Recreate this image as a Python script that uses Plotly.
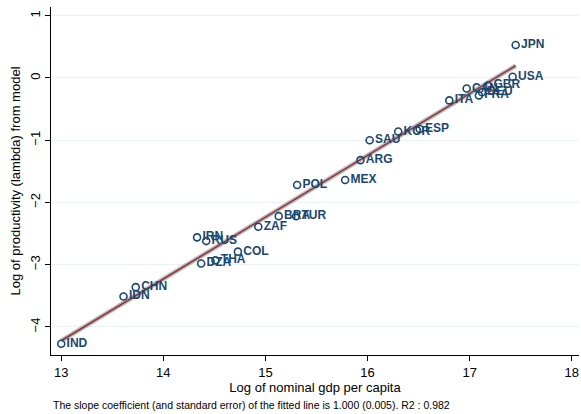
import numpy as np
import plotly.graph_objects as go

countries = ["IND", "IDN", "CHN", "DZA", "THA", "COL", "IRN", "RUS", "ZAF", "BRA", "TUR",
             "POL", "MEX", "ARG", "SAU", "KOR", "ESP", "ITA", "CAN", "FRA", "DEU", "GBR",
             "USA", "JPN"]
log_gdp = [13.00, 13.61, 13.73, 14.37, 14.51, 14.73, 14.33, 14.42, 14.93, 15.13, 15.30,
           15.31, 15.78, 15.93, 16.02, 16.30, 16.51, 16.80, 16.97, 17.09, 17.12, 17.18,
           17.42, 17.45]
log_lambda = [-4.27, -3.51, -3.36, -2.98, -2.93, -2.79, -2.56, -2.62, -2.39, -2.22, -2.22,
              -1.72, -1.64, -1.32, -1.00, -0.86, -0.82, -0.36, -0.17, -0.28, -0.23, -0.12,
              0.02, 0.53]

x_ticks = [13, 14, 15, 16, 17, 18]
y_ticks = [-4, -3, -2, -1, 0, 1]
note = "The slope coefficient (and standard error) of the fitted line is 1.000 (0.005). R2 : 0.982"

navy = "#1a476f"
maroon = "#90353b"
font_family = "Arial, 'Liberation Sans', sans-serif"

x = np.array(log_gdp)
y = np.array(log_lambda)
b, a = np.polyfit(x, y, 1)
fx = np.array([x.min(), x.max()])
fy = a + b * fx

fig = go.Figure()
fig.add_trace(go.Scatter(x=fx, y=fy, mode="lines",
                         line=dict(color="rgba(175,175,175,0.85)", width=4.5),
                         hoverinfo="skip", showlegend=False))
fig.add_trace(go.Scatter(x=fx, y=fy, mode="lines",
                         line=dict(color=maroon, width=1.6),
                         hoverinfo="skip", showlegend=False))
fig.add_trace(go.Scatter(x=log_gdp, y=log_lambda, text=countries,
                         mode="markers+text", textposition="middle right",
                         textfont=dict(family=font_family, size=12, color=navy, weight="bold"),
                         marker=dict(symbol="circle-open", size=7, color=navy,
                                     line=dict(width=1.6, color=navy)),
                         showlegend=False))

fig.update_layout(
    width=581, height=414,
    margin=dict(l=51, r=2, t=7, b=59),
    paper_bgcolor="white", plot_bgcolor="white",
    font=dict(family=font_family, size=13, color="black"),
    xaxis=dict(range=[12.9, 18.07], tickvals=x_ticks, ticks="outside", ticklen=5,
               tickcolor="black", showline=True, linecolor="black", linewidth=1,
               showgrid=False, zeroline=False, automargin=False,
               title=dict(text="Log of nominal gdp per capita", font=dict(size=13), standoff=4),
               tickfont=dict(size=13)),
    yaxis=dict(range=[-4.45, 1.14], tickvals=y_ticks, ticks="outside", ticklen=5,
               tickcolor="black", showline=True, linecolor="black", linewidth=1,
               showgrid=True, gridcolor="#eaf2f3", gridwidth=1, zeroline=False,
               tickangle=-90, automargin=False,
               title=dict(text="Log of productivity (lambda) from model", font=dict(size=13), standoff=4),
               tickfont=dict(size=13)),
    annotations=[dict(text=note, xref="paper", yref="paper", x=0.0, y=-0.143,
                      xanchor="left", yanchor="middle", showarrow=False,
                      font=dict(size=10.5, color="black"))],
)

fig.write_html("out.html", config={"displayModeBar": False},
               post_script="document.body.style.margin='0';")
